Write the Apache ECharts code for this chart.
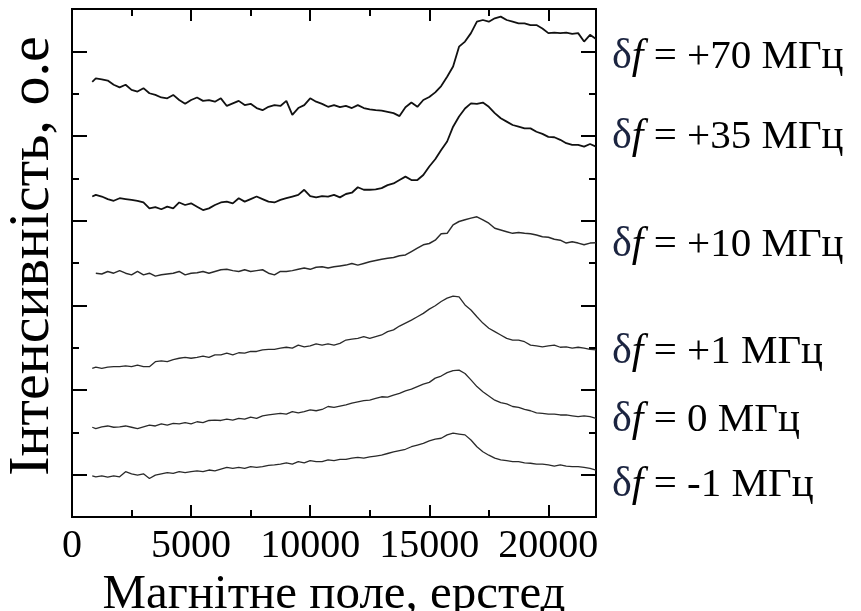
<!DOCTYPE html>
<html>
<head>
<meta charset="utf-8">
<script src="https://cdn.jsdelivr.net/npm/echarts@6/dist/echarts.min.js"></script>
<style>
  html, body { margin: 0; padding: 0; background: #fff; }
  #chart { width: 861px; height: 611px; }
</style>
</head>
<body>
<div id="chart"></div>
<script>
// магнітне поле, Е
const fields = [850, 1000, 1250, 1500, 1750, 2000, 2250, 2500, 2750, 3000, 3250, 3500, 3750, 4000, 4250,
  4500, 4750, 5000, 5250, 5500, 5750, 6000, 6250, 6500, 6750, 7000, 7250, 7500, 7750, 8000,
  8250, 8500, 8750, 9000, 9250, 9500, 9750, 10000, 10250, 10500, 10750, 11000, 11250, 11500, 11750,
  12000, 12250, 12500, 12750, 13000, 13250, 13500, 13750, 14000, 14250, 14500, 14750, 15000, 15250,
  15500, 15750, 16000, 16250, 16500, 16750, 17000, 17250, 17500, 17750, 18000, 18250, 18500, 18750,
  19000, 19250, 19500, 19750, 20000, 20250, 20500, 20750, 21000, 21250, 21500, 21750, 22000]

// інтенсивність (криві зсунуті по вертикалі), о.е
const f70 = [10.28, 10.36, 10.34, 10.31, 10.21, 10.15, 10.21, 10.09, 10.05, 10.13,
  10.01, 9.97, 9.91, 9.89, 9.97, 9.85, 9.76, 9.85, 9.91, 9.83,
  9.85, 9.81, 9.89, 9.71, 9.77, 9.83, 9.73, 9.76, 9.66, 9.61,
  9.69, 9.73, 9.71, 9.83, 9.50, 9.66, 9.73, 9.89, 9.81, 9.76,
  9.69, 9.73, 9.68, 9.71, 9.66, 9.73, 9.66, 9.63, 9.61, 9.60,
  9.57, 9.54, 9.47, 9.68, 9.79, 9.69, 9.85, 9.92, 10.03,
  10.18, 10.40, 10.64, 11.11, 11.23, 11.43, 11.70, 11.74, 11.70, 11.78,
  11.82, 11.74, 11.70, 11.66, 11.66, 11.62, 11.62, 11.54, 11.43, 11.44,
  11.43, 11.44, 11.41, 11.43, 11.23, 11.39, 11.29]
const f35 = [7.57, 7.61, 7.57, 7.51, 7.47, 7.53, 7.51, 7.49, 7.47, 7.43,
  7.29, 7.32, 7.27, 7.33, 7.29, 7.43, 7.37, 7.41, 7.33, 7.25,
  7.29, 7.37, 7.43, 7.45, 7.41, 7.53, 7.45, 7.51, 7.57, 7.51,
  7.45, 7.43, 7.49, 7.53, 7.57, 7.61, 7.73, 7.58, 7.55, 7.58,
  7.57, 7.61, 7.55, 7.63, 7.66, 7.79, 7.73, 7.73, 7.74, 7.77,
  7.84, 7.88, 7.96, 8.04, 7.96, 7.96, 8.08, 8.28, 8.45,
  8.67, 8.87, 9.22, 9.46, 9.65, 9.77, 9.76, 9.79, 9.69, 9.54,
  9.42, 9.34, 9.26, 9.22, 9.18, 9.18, 9.10, 9.05, 8.98, 8.97,
  8.91, 8.83, 8.79, 8.79, 8.75, 8.81, 8.75]
const f10 = [null, 5.76, 5.74, 5.80, 5.76, 5.82, 5.76, 5.72, 5.80, 5.72,
  5.76, 5.69, 5.72, 5.74, 5.76, 5.80, 5.72, 5.76, 5.77, 5.80,
  5.76, 5.80, 5.84, 5.85, 5.82, 5.80, 5.84, 5.80, 5.82, 5.84,
  5.76, 5.72, 5.80, 5.80, 5.82, 5.85, 5.88, 5.85, 5.90, 5.91,
  5.88, 5.91, 5.93, 5.95, 5.99, 5.95, 5.99, 6.03, 6.06, 6.09,
  6.11, 6.13, 6.17, 6.19, 6.27, 6.35, 6.43, 6.46, 6.54,
  6.69, 6.70, 6.90, 6.98, 7.02, 7.06, 7.09, 7.02, 6.94, 6.82,
  6.78, 6.74, 6.70, 6.72, 6.70, 6.69, 6.66, 6.62, 6.61, 6.56,
  6.54, 6.47, 6.50, 6.47, 6.43, 6.47, 6.48]
const f1 = [3.51, 3.54, 3.51, 3.54, 3.55, 3.55, 3.57, 3.55, 3.59, 3.55,
  3.55, 3.67, 3.69, 3.67, 3.72, 3.75, 3.77, 3.75, 3.77, 3.80,
  3.77, 3.83, 3.83, 3.87, 3.83, 3.88, 3.87, 3.91, 3.91, 3.95,
  3.96, 3.96, 3.99, 4.01, 3.99, 4.06, 4.02, 4.04, 4.09, 4.06,
  4.09, 4.06, 4.10, 4.18, 4.20, 4.22, 4.26, 4.22, 4.26, 4.30,
  4.38, 4.42, 4.51, 4.58, 4.65, 4.73, 4.81, 4.91, 4.99,
  5.09, 5.17, 5.22, 5.20, 5.01, 4.89, 4.73, 4.58, 4.46, 4.38,
  4.30, 4.22, 4.18, 4.18, 4.14, 4.06, 4.04, 4.02, 4.04, 4.06,
  4.01, 4.02, 3.99, 4.01, 3.99, 3.96, 3.95]
const f0 = [2.12, 2.09, 2.13, 2.15, 2.12, 2.13, 2.15, 2.12, 2.09, 2.13,
  2.17, 2.15, 2.20, 2.17, 2.21, 2.20, 2.23, 2.20, 2.25, 2.23,
  2.28, 2.29, 2.28, 2.31, 2.29, 2.33, 2.31, 2.36, 2.33, 2.39,
  2.41, 2.43, 2.45, 2.43, 2.49, 2.46, 2.49, 2.53, 2.51, 2.54,
  2.61, 2.59, 2.62, 2.65, 2.69, 2.72, 2.75, 2.76, 2.80, 2.84,
  2.83, 2.88, 2.92, 2.98, 3.02, 3.08, 3.14, 3.18, 3.28,
  3.33, 3.41, 3.46, 3.47, 3.39, 3.24, 3.08, 2.96, 2.86, 2.76,
  2.70, 2.67, 2.61, 2.59, 2.54, 2.51, 2.46, 2.45, 2.43, 2.43,
  2.41, 2.41, 2.39, 2.37, 2.39, 2.37, 2.33]
const fm1 = [0.97, 0.95, 0.97, 0.94, 0.97, 0.95, 1.07, 1.02, 0.99, 1.02,
  0.91, 0.99, 1.02, 1.05, 1.03, 1.07, 1.05, 1.07, 1.09, 1.07,
  1.11, 1.09, 1.13, 1.17, 1.15, 1.17, 1.15, 1.19, 1.17, 1.19,
  1.22, 1.23, 1.25, 1.28, 1.25, 1.31, 1.28, 1.33, 1.31, 1.31,
  1.35, 1.33, 1.36, 1.36, 1.39, 1.41, 1.39, 1.42, 1.44, 1.46,
  1.50, 1.54, 1.57, 1.60, 1.66, 1.70, 1.74, 1.80, 1.84,
  1.86, 1.94, 1.98, 1.96, 1.94, 1.82, 1.66, 1.54, 1.46, 1.39,
  1.35, 1.33, 1.31, 1.31, 1.28, 1.27, 1.25, 1.25, 1.23, 1.20,
  1.23, 1.20, 1.19, 1.19, 1.17, 1.15, 1.11]

const curves = [f70, f35, f10, f1, f0, fm1]
const labels = ['+70 МГц', '+35 МГц', '+10 МГц', '+1 МГц', '0 МГц', '-1 МГц']
const labelY = [57, 137, 245, 352, 420, 485]

// поділки осей
const xMajor = [5000, 10000, 15000, 20000]
const xMinor = [2500, 7500, 12500, 17500]
const yLong = [1, 3, 5, 7, 9, 11]
const yShort = [2, 4, 6, 8, 10]

const chart = echarts.init(document.getElementById('chart'))
const serif = '"Liberation Serif", "DejaVu Serif", serif'

const axisLine = { show: true, onZero: false, lineStyle: { color: '#000', width: 2 } }

function xAx(pos, ticks, len) {
  return {
    type: 'value', position: pos, min: 0, max: 22000, interval: 5000,
    axisLine: axisLine,
    axisTick: { show: true, inside: true, length: len, customValues: ticks, lineStyle: { color: '#000', width: 2 } },
    axisLabel: { show: false },
    splitLine: { show: false }
  }
}
function yAx(pos, ticks, len) {
  return {
    type: 'value', position: pos, min: 0, max: 12, interval: 1,
    axisLine: axisLine,
    axisTick: { show: true, inside: true, length: len, customValues: ticks, lineStyle: { color: '#000', width: 2 } },
    axisLabel: { show: false },
    splitLine: { show: false }
  }
}

const xMain = xAx('bottom', xMajor, 12)
xMain.axisLabel = { show: true, margin: 9, color: '#000', fontSize: 40, fontFamily: serif,
  formatter: v => (v % 5000 === 0 ? String(v) : '') }
xMain.name = 'Магнітне поле, ерстед'
xMain.nameLocation = 'middle'
xMain.nameGap = 35
xMain.nameTextStyle = { color: '#000', fontSize: 49, fontFamily: serif }

const yMain = yAx('left', yLong, 15)
yMain.name = 'Інтенсивність, о.е'
yMain.nameLocation = 'middle'
yMain.nameGap = 10
yMain.nameTextStyle = { color: '#000', fontSize: 58, fontFamily: serif, padding: [0, 0, 0, 14] }

const option = {
  backgroundColor: '#fff',
  animation: false,
  grid: { left: 72, right: 265, top: 9, bottom: 94, containLabel: false, outerBoundsMode: 'none' },
  xAxis: [xMain, xAx('bottom', xMinor, 7), xAx('top', xMajor, 12), xAx('top', xMinor, 7)],
  yAxis: [yMain, yAx('left', yShort, 7), yAx('right', yLong, 15), yAx('right', yShort, 7)],
  series: curves.map((vals, i) => ({
    type: 'line',
    name: labels[i],
    xAxisIndex: 0,
    yAxisIndex: 0,
    data: fields.map((f, j) => [f, vals[j]]),
    showSymbol: false,
    lineStyle: { color: i < 2 ? '#111' : '#2a2a2a', width: i < 2 ? 1.8 : (i === 2 ? 1.5 : 1.3) }
  })),
  graphic: labels.map((t, i) => ({
    type: 'text',
    x: 612,
    y: labelY[i],
    style: {
      text: '{d|δ}{f|f} = ' + t,
      fill: '#000',
      fontSize: 41,
      fontFamily: serif,
      verticalAlign: 'middle',
      rich: {
        d: { fontSize: 42, fontFamily: serif, fill: '#1b2440' },
        f: { fontSize: 42, fontFamily: serif, fontStyle: 'italic', fill: '#000' }
      }
    }
  }))
}

chart.setOption(option)
window.addEventListener('resize', chart.resize)
</script>
</body>
</html>
